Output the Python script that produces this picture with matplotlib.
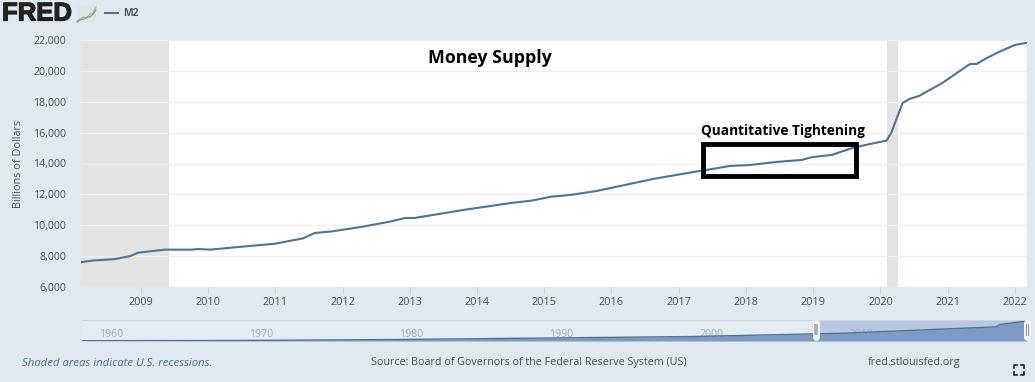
import matplotlib
matplotlib.use('Agg')
import matplotlib.pyplot as plt
import matplotlib.patheffects as pe
import numpy as np

# decimal year, billions of dollars
years = [2008.11,2008.3,2008.6,2008.84,2008.96,2009.21,2009.36,2009.76,2009.85,2010.03,2010.5,2010.99,2011.41,2011.59,2011.84,2012.29,2012.7,2012.93,2013.07,2013.74,2013.89,2014.5,2014.82,2015.1,2015.38,2015.78,2016.08,2016.62,2017.3,2017.41,2017.76,2018.05,2018.45,2018.83,2018.99,2019.27,2019.58,2019.84,2020.09,2020.16,2020.33,2020.43,2020.58,2020.92,2021.33,2021.43,2021.59,2021.77,2022.0,2022.18]
m2 = [7610,7720,7800,8000,8220,8350,8420,8420,8460,8420,8610,8800,9150,9500,9600,9900,10230,10470,10470,10950,11050,11440,11600,11850,11960,12220,12500,13000,13510,13580,13840,13900,14100,14230,14420,14550,15000,15260,15480,15980,17920,18180,18390,19215,20440,20450,20850,21240,21680,21820]
y_ticks = [6000,8000,10000,12000,14000,16000,18000,20000,22000]
x_ticks = [2009,2010,2011,2012,2013,2014,2015,2016,2017,2018,2019,2020,2021,2022]
recessions = [(2008.11,2009.42),(2020.10,2020.26)]

# whole history for the small navigator strip
nav_years = [1959.18,1970,1980,1990,2000,2010,2020.1,2020.4,2022.18]
nav_m2 = [300,630,1600,3200,4900,8500,15400,18000,21820]
nav_ticks = [1960,1970,1980,1990,2000,2010,2020]

BG = '#e1e9f0'
LINE = '#4f7394'
TXT = '#505050'
W, H = 1035, 382
plt.rcParams['font.family'] = ['Open Sans', 'DejaVu Sans']

fig = plt.figure(figsize=(W/100, H/100), dpi=100, facecolor=BG)

def box(x0, ytop, x1, ybot):
    return [x0/W, 1-ybot/H, (x1-x0)/W, (ybot-ytop)/H]

ax = fig.add_axes(box(81, 40, 1027, 287))
ax.plot(years, m2, color=LINE, lw=1.5, zorder=3)
for a, b in recessions:
    ax.axvspan(a, b, color='#e3e3e3', lw=0, zorder=1)
ax.set_xlim(2008.11, 2022.18)
ax.set_ylim(6000, 22000)
ax.set_yticks(y_ticks)
ax.set_yticklabels([f'{v:,}' for v in y_ticks], fontsize=7.7, color=TXT)
ax.set_xticks(x_ticks)
ax.set_xticklabels(x_ticks, fontsize=7.8, color=TXT)
ax.tick_params(axis='y', length=0, pad=10.5)
ax.tick_params(axis='x', length=5, width=0.8, color='#ccd6eb', pad=2.5)
ax.grid(axis='y', color='#efefef', lw=0.9, zorder=0)
for s in ax.spines.values():
    s.set_visible(False)
ax.set_ylabel('Billions of Dollars', fontsize=7.8, color=TXT, labelpad=7)

# annotations pasted over the chart
fig.text(490/W, 1-58/H, 'Money Supply', fontsize=12.8, fontweight='bold', color='black', ha='center', va='center')
fig.text(783/W, 1-131/H, 'Quantitative Tightening', fontsize=9.8, fontweight='bold', color='black', ha='center', va='center')
ax.add_patch(plt.Rectangle((2017.36,13158), 2.28, 2073, fill=False, ec='black', lw=3.5, zorder=5, clip_on=False))

# navigator
nav = fig.add_axes(box(82, 320, 1027, 341))
nav.set_facecolor('#e4ebf3')
nav.set_xlim(1959.18, 2022.18)
nav.set_ylim(0, 22840)
nav.axvspan(2008.11, 2022.18, color='#b9c8e0', lw=0, zorder=1)
for t in nav_ticks:
    nav.text(t+0.33, 7600, str(t), fontsize=7.6, color='#a3adb6', ha='left', va='center', zorder=1.5)
nav.fill_between(nav_years, nav_m2, color='#7d9bc5', lw=0, zorder=2)
nav.plot(nav_years, nav_m2, color=LINE, lw=1, zorder=3)
nav.set_xticks([])
nav.set_yticks([])
for s in nav.spines.values():
    s.set_visible(False)
nav.axhline(22840, color='#cbd5df', lw=1.5, zorder=4)
# drag handles, inner marks differ left and right
for hx in (2008.11, 2022.18):
    nav.plot([hx, hx], [4350, 19580], color='#f6f6f6', lw=5, solid_capstyle='round', zorder=6, clip_on=False)
nav.plot([2008.11, 2008.11], [6000, 18000], color='#a9a9a9', lw=2.6, solid_capstyle='butt', zorder=7, clip_on=False)
for off in (-0.08, 0.08):
    nav.plot([2022.18+off]*2, [6000, 18000], color='#999999', lw=0.8, zorder=7, clip_on=False)

# header
fig.text(2/W, 1-13.5/H, 'FRED', fontsize=18.5, fontweight='bold', color='#222222', ha='left', va='center', family='Liberation Sans',
         path_effects=[pe.withStroke(linewidth=0.9, foreground='#222222')])
fig.add_artist(plt.Line2D([105/W, 118/W], [1-13/H]*2, color=LINE, lw=1.5))
fig.text(123/W, 1-14/H, 'M2', fontsize=7.5, fontweight='bold', color='#555555', ha='left', va='center')
# small logo sparkline
fig.patches.append(plt.Rectangle((77/W, 1-23/H), 19/W, 18/H, transform=fig.transFigure, fc='#dfe5e0', ec='none'))
for ys, c in (([21,19,17,18,14,13,7], '#9db59d'), ([22,20,19,17,17,14,10], '#8a97a3')):
    fig.add_artist(plt.Line2D(np.array([77,80,84,87,90,93,96])/W, 1-np.array(ys)/H, color=c, lw=0.9))

# footer
fig.text(22/W, 1-363/H, 'Shaded areas indicate U.S. recessions.', fontsize=8.2, style='italic', color='#4e7196', ha='left', va='center')
fig.text(371/W, 1-363/H, 'Source: Board of Governors of the Federal Reserve System (US)', fontsize=7.75, color=TXT, ha='left', va='center')
fig.text(868/W, 1-363/H, 'fred.stlouisfed.org', fontsize=7.85, color=TXT, ha='left', va='center')
# fullscreen icon corners
for cx, cy, dx, dy in ((1014,365,1,1),(1024,365,-1,1),(1014,375,1,-1),(1024,375,-1,-1)):
    fig.add_artist(plt.Line2D(np.array([cx+3*dx, cx, cx])/W, 1-np.array([cy, cy, cy+3*dy])/H, color='#222222', lw=1.2))

fig.savefig('out.png', dpi=100, facecolor=BG)
